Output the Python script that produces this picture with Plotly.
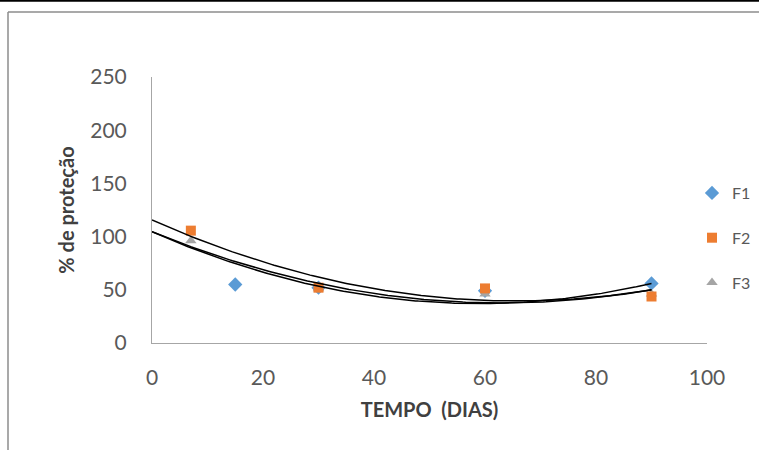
import numpy as np
import plotly.graph_objects as go

# ---- data ----
days_f1 = [15, 30, 60, 90]
prot_f1 = [55, 52, 49, 56]
days_f2 = [7, 30, 60, 90]
prot_f2 = [105.6, 52, 51.3, 43.7]
days_f3 = [7, 30, 60, 90]
prot_f3 = [96, 51, 46, 46]

# quadratic trendline coefficients  y = a*x^2 + b*x + c
trend_f1 = [0.0195, -2.295, 104.6]
trend_f2 = [0.0177, -2.322, 115.6]
trend_f3 = [0.0169, -2.127, 104.6]

x_ticks = [0, 20, 40, 60, 80, 100]
y_ticks = [0, 50, 100, 150, 200, 250]

# ---- layout constants ----
W, H = 759, 450
L, R, T, B = 152, 52, 77, 107
PW, PH = W - L - R, H - T - B


def px(xp):
    return (xp - L) / PW


def py(yp):
    return (H - B - yp) / PH


FONT = "Lato"
TXT = "#595959"

fig = go.Figure()

series = [
    ("F1", days_f1, prot_f1, "diamond", "#5B9BD5", 11, 1),
    ("F3", days_f3, prot_f3, "triangle-up", "#A5A5A5", 10, 3),
    ("F2", days_f2, prot_f2, "square", "#ED7D31", 10, 2),
]
for name, xs, ys, sym, col, size, rank in series:
    fig.add_trace(go.Scatter(
        x=xs, y=ys, mode="markers", name=name, legendgroup=name,
        legendrank=rank,
        marker=dict(symbol=sym, color=col, size=size, line=dict(width=0)),
    ))

xt = np.linspace(0, 90, 181)
for coef in (trend_f1, trend_f2, trend_f3):
    yt = np.polyval(coef, xt)
    fig.add_trace(go.Scatter(
        x=xt, y=yt, mode="lines", showlegend=False, hoverinfo="skip",
        line=dict(color="black", width=1.5),
    ))

shapes = [
    # black rule at the very top
    dict(type="line", xref="paper", yref="paper",
         x0=px(0), x1=px(W), y0=py(0.8), y1=py(0.8),
         line=dict(color="black", width=2)),
    # gray chart frame (top and left edges)
    dict(type="line", xref="paper", yref="paper",
         x0=px(8), x1=px(W), y0=py(12), y1=py(12),
         line=dict(color="#8c8c8c", width=1.5)),
    dict(type="line", xref="paper", yref="paper",
         x0=px(8), x1=px(8), y0=py(12), y1=py(H),
         line=dict(color="#8c8c8c", width=1.5)),
]

fig.update_layout(
    width=W, height=H,
    margin=dict(l=L, r=R, t=T, b=B, pad=0, autoexpand=False),
    paper_bgcolor="white", plot_bgcolor="white",
    font=dict(family=FONT, color=TXT, size=21),
    shapes=shapes,
    showlegend=True,
    legend=dict(
        x=px(692), y=py(176), xanchor="left", yanchor="top",
        font=dict(family=FONT, size=16, color=TXT),
        tracegroupgap=21, itemwidth=30, bgcolor="rgba(0,0,0,0)",
    ),
    xaxis=dict(
        range=[0, 100], tickvals=x_ticks, showgrid=False, zeroline=False,
        showline=True, linecolor="#a6a6a6", linewidth=1, ticks="",
        ticklabelstandoff=16, tickfont=dict(size=21, family=FONT, color=TXT),
        title=dict(text="<b>TEMPO  (DIAS)</b>",
                   font=dict(size=20, family=FONT, color="#404040"),
                   standoff=14),
    ),
    yaxis=dict(
        range=[0, 250], tickvals=y_ticks, showgrid=False, zeroline=False,
        showline=True, linecolor="#a6a6a6", linewidth=1, ticks="",
        ticklabelstandoff=20, tickfont=dict(size=21, family=FONT, color=TXT),
        title=dict(text="<b>% de proteção</b>",
                   font=dict(size=20, family=FONT, color="#404040"),
                   standoff=10),
    ),
)

fig.write_html(
    "out.html",
    config={"displayModeBar": False},
    post_script="document.body.style.margin='0';document.body.style.padding='0';",
)
